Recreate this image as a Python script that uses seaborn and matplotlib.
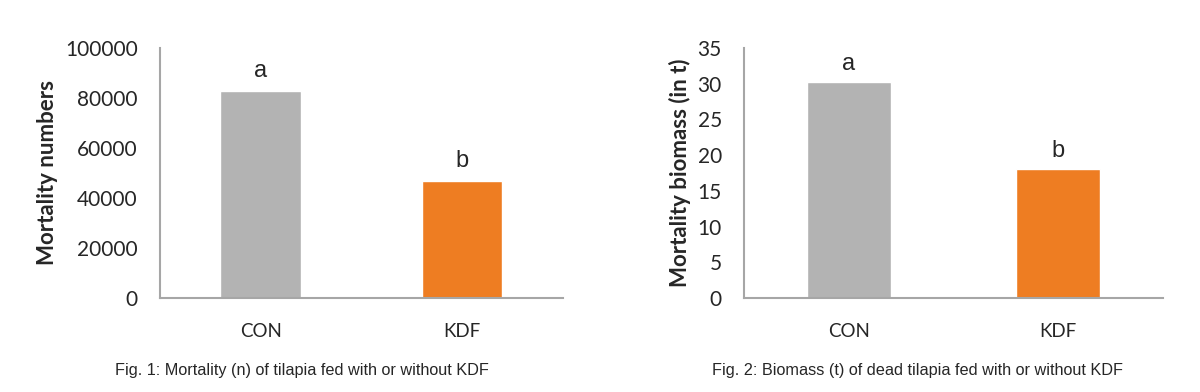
import matplotlib
matplotlib.use("Agg")
import matplotlib.pyplot as plt
import seaborn as sns
import pandas as pd

# data
groups = ["CON", "KDF"]
mortality_n = [82800, 46800]
biomass_t = [30.2, 18.1]
letters = ["a", "b"]
colors = ["#b3b3b3", "#ee7d22"]

sns.set_style("white")
plt.rcParams['font.family'] = ['Lato', 'DejaVu Sans']

GRAY = "#a6a6a6"


def draw_panel(ax, values, ymax, step, ylabel, caption, letter_pad, cap_x):
    df = pd.DataFrame({'group': groups, 'value': values})
    sns.barplot(data=df, x='group', y='value', hue='group', palette=colors,
                width=0.4, saturation=1, legend=False, ax=ax)
    ax.set_xlim(-0.5, 1.5)
    ax.set_ylim(0, ymax)
    ax.set_yticks(range(0, int(ymax) + 1, step))
    # tick marks at category borders, labels at the centers
    ax.set_xticks([-0.5, 0.5, 1.5])
    ax.set_xticklabels([])
    ax.set_xticks([0, 1], minor=True)
    ax.set_xticklabels(groups, minor=True, fontsize=13.5)
    ax.tick_params(axis='x', which='major', direction='out', length=6, width=1.5, color=GRAY)
    ax.tick_params(axis='x', which='minor', length=0, pad=18)
    ax.tick_params(axis='y', direction='out', length=6, width=1.5, color=GRAY, labelsize=15, pad=10)
    for s in ['top', 'right']:
        ax.spines[s].set_visible(False)
    for s in ['left', 'bottom']:
        ax.spines[s].set_color(GRAY)
        ax.spines[s].set_linewidth(1.5)
    ax.set_xlabel('')
    ax.set_ylabel(ylabel, fontsize=16, fontweight='bold', labelpad=5)
    for i, (v, t) in enumerate(zip(values, letters)):
        ax.text(i, v + letter_pad, t, ha='center', va='bottom', fontsize=17,
                family=['Liberation Sans', 'DejaVu Sans'])
    ax.text(cap_x, -0.29, caption, transform=ax.transAxes,
            fontsize=11.7, family=['Liberation Sans', 'DejaVu Sans'], ha='left', va='center')


fig = plt.figure(figsize=(12, 3.92), dpi=100)
ax1 = fig.add_axes([0.1333, 0.2398, 0.3358, 0.6378])
ax2 = fig.add_axes([0.62, 0.2398, 0.3492, 0.6378])

draw_panel(ax1, mortality_n, 100000, 20000, 'Mortality numbers',
           'Fig. 1: Mortality (n) of tilapia fed with or without KDF', 3600, -0.112)
draw_panel(ax2, biomass_t, 35, 5, 'Mortality biomass (in t)',
           'Fig. 2: Biomass (t) of dead tilapia fed with or without KDF', 1.0, -0.076)

fig.savefig("out.png", dpi=100)
